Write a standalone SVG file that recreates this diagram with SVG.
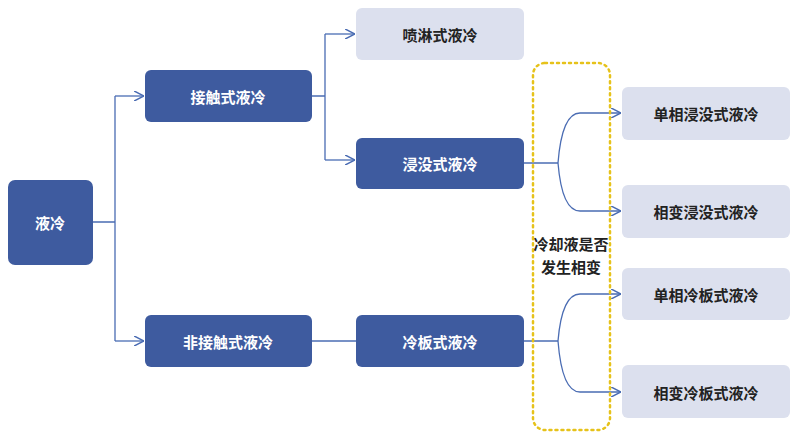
<svg xmlns="http://www.w3.org/2000/svg" width="800" height="442" viewBox="0 0 800 442">
<style>
.d{fill:#3e5b9f}
.l{fill:#dce0ee}
text{font-family:"Noto Sans CJK SC","Noto Sans",sans-serif;font-size:15px;font-weight:bold;text-anchor:middle;dominant-baseline:central}
.dt{fill:#fff}
.lt{fill:#222}
.c{fill:none;stroke:#4a6cb3;stroke-width:1.3}
</style>
<defs><marker id="a" viewBox="0 0 10 10" refX="10" refY="5" markerWidth="8" markerHeight="8" orient="auto"><path d="M0,0 L10,5 L0,10" fill="none" stroke="#4a6cb3" stroke-width="1.5"/></marker></defs>
<rect width="800" height="442" fill="#fff"/>
<g id="connectors">
<path class="c" d="M93,222 H115 M115,96 V341"/>
<path class="c" d="M115,96 H144" marker-end="url(#a)"/>
<path class="c" d="M115,341 H144" marker-end="url(#a)"/>
<path class="c" d="M312,96 H325 M325,34 V160"/>
<path class="c" d="M325,34 H355" marker-end="url(#a)"/>
<path class="c" d="M325,160 H355" marker-end="url(#a)"/>
<path class="c" d="M312,341 H356"/>
<path class="c" d="M524,163 H558"/>
<path class="c" d="M558,163 Q562,113 580,113 H621" marker-end="url(#a)"/>
<path class="c" d="M558,163 Q562,211 580,211 H621" marker-end="url(#a)"/>
<path class="c" d="M524,341 H558"/>
<path class="c" d="M558,341 Q562,294 580,294 H621" marker-end="url(#a)"/>
<path class="c" d="M558,341 Q562,392 580,392 H621" marker-end="url(#a)"/>
</g>
<rect x="533" y="63" width="77" height="367" rx="12" fill="none" stroke="#e6c21a" stroke-width="2.5" stroke-dasharray="2,4" stroke-linecap="round"/>
<text x="571" y="243" class="lt">冷却液是否</text>
<text x="571" y="266" class="lt">发生相变</text>
<g id="n1"><rect class="d" x="8" y="180" width="85" height="85" rx="7"/><text class="dt" x="50" y="222">液冷</text></g>
<g id="n2"><rect class="d" x="145" y="70" width="167" height="52" rx="6"/><text class="dt" x="228" y="96">接触式液冷</text></g>
<g id="n3"><rect class="d" x="145" y="315" width="167" height="52" rx="6"/><text class="dt" x="228" y="341">非接触式液冷</text></g>
<g id="n4"><rect class="l" x="356" y="8" width="168" height="52" rx="6"/><text class="lt" x="440" y="34">喷淋式液冷</text></g>
<g id="n5"><rect class="d" x="356" y="138" width="168" height="51" rx="6"/><text class="dt" x="440" y="163">浸没式液冷</text></g>
<g id="n6"><rect class="d" x="356" y="315" width="168" height="52" rx="6"/><text class="dt" x="440" y="341">冷板式液冷</text></g>
<g id="n7"><rect class="l" x="622" y="87" width="168" height="53" rx="6"/><text class="lt" x="706" y="113">单相浸没式液冷</text></g>
<g id="n8"><rect class="l" x="622" y="185" width="168" height="53" rx="6"/><text class="lt" x="706" y="211">相变浸没式液冷</text></g>
<g id="n9"><rect class="l" x="622" y="268" width="168" height="52" rx="6"/><text class="lt" x="706" y="294">单相冷板式液冷</text></g>
<g id="n10"><rect class="l" x="622" y="365" width="168" height="53" rx="6"/><text class="lt" x="706" y="392">相变冷板式液冷</text></g>
</svg>
